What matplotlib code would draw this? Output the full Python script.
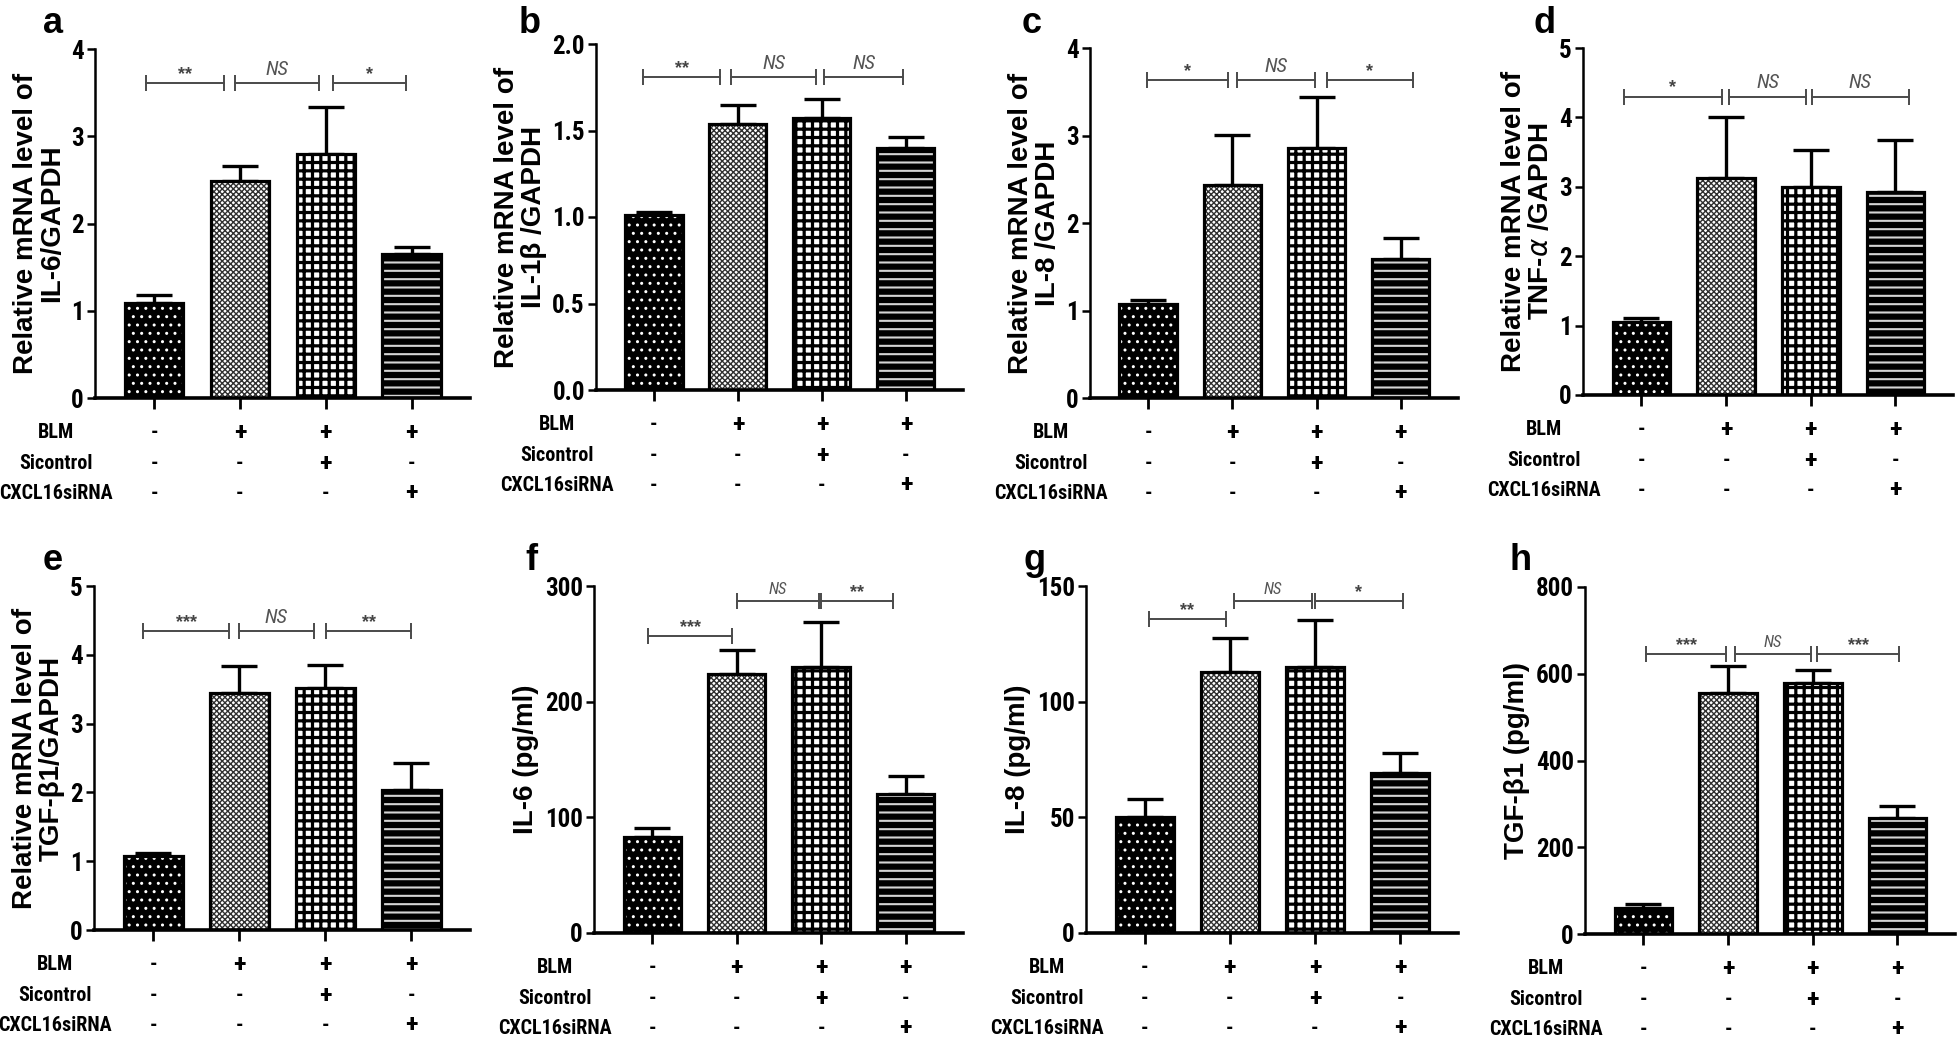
import matplotlib
matplotlib.use("Agg")
import matplotlib.pyplot as plt
from matplotlib import font_manager

# ---- data ----
row_names = ["BLM", "Sicontrol", "CXCL16siRNA"]
treatments = [["-", "+", "+", "+"],
              ["-", "-", "+", "-"],
              ["-", "-", "-", "+"]]
groups = [0, 1, 2, 3]

il6_mrna = [1.09, 2.49, 2.80, 1.65]
il6_mrna_err = [0.09, 0.17, 0.54, 0.08]
il1b_mrna = [1.01, 1.54, 1.57, 1.40]
il1b_mrna_err = [0.02, 0.11, 0.11, 0.06]
il8_mrna = [1.07, 2.43, 2.86, 1.59]
il8_mrna_err = [0.05, 0.58, 0.58, 0.24]
tnfa_mrna = [1.05, 3.13, 2.99, 2.92]
tnfa_mrna_err = [0.06, 0.88, 0.54, 0.75]
tgfb1_mrna = [1.08, 3.44, 3.52, 2.03]
tgfb1_mrna_err = [0.04, 0.40, 0.33, 0.40]
il6_elisa = [83, 224, 230, 120]
il6_elisa_err = [8, 21, 39, 16]
il8_elisa = [50, 113, 115, 69]
il8_elisa_err = [8, 14.5, 20.5, 9]
tgfb1_elisa = [60, 555, 578, 267]
tgfb1_elisa_err = [9, 62, 30, 28]

# significance brackets: (from, to, height, label)
sig_a = [(-0.10, 0.81, 3.61, "**"), (0.94, 1.92, 3.61, "NS"), (2.08, 2.94, 3.61, "*")]
sig_b = [(-0.13, 0.79, 1.81, "**"), (0.92, 1.93, 1.81, "NS"), (2.03, 2.97, 1.81, "NS")]
sig_c = [(-0.01, 0.95, 3.63, "*"), (1.06, 1.98, 3.63, "NS"), (2.12, 3.14, 3.63, "*")]
sig_d = [(-0.21, 0.95, 4.30, "*"), (1.04, 1.94, 4.30, "NS"), (2.01, 3.16, 4.30, "NS")]
sig_e = [(-0.12, 0.88, 4.35, "***"), (0.99, 1.87, 4.35, "NS"), (2.01, 3.00, 4.35, "**")]
sig_f = [(-0.05, 0.95, 257, "***"), (1.00, 1.97, 287, "NS"), (2.00, 2.85, 287, "**")]
sig_g = [(0.05, 0.95, 135.7, "**"), (1.05, 1.97, 143.4, "NS"), (2.00, 3.03, 143.4, "*")]
sig_h = [(0.03, 0.98, 645, "***"), (1.08, 1.98, 645, "NS"), (2.05, 3.02, 645, "***")]

# ---- fonts ----
names = {f.name for f in font_manager.fontManager.ttflist}
narrow = next((n for n in ["Liberation Sans Narrow", "Roboto Condensed", "Open Sans Condensed"]
               if n in names), "Liberation Sans")
plt.rcParams["font.family"] = ["Liberation Sans", "DejaVu Sans"]
plt.rcParams["mathtext.fontset"] = "dejavusans"

W, H = 1959, 1054
fig = plt.figure(figsize=(W / 100, H / 100), dpi=100)

faces = ["black", "white", "white", "black"]
hatch_cols = ["white", "#303030", "black", "#d5d5d5"]
hatches = ["..", "xxxxxx", "++", "--"]
hatch_lws = [1.0, 1.0, 2.3, 1.5]


def panel(box, letter, letter_xy, means, errs, ymax, yticks, ylabel, sig, small_ns, fmt="{:g}"):
    l, t, r, b = box
    ax = fig.add_axes([l / W, 1 - b / H, (r - l) / W, (b - t) / H])
    ax.set_xlim(-0.69, 3.68)
    ax.set_ylim(0, ymax)

    ax.errorbar(groups, means, yerr=[[0] * len(means), errs], fmt="none", ecolor="black",
                elinewidth=2.4, capsize=13, capthick=2.4, zorder=1)
    for i in groups:
        with plt.rc_context({"hatch.linewidth": hatch_lws[i]}):
            p = ax.bar(groups[i], means[i], width=0.68, color=faces[i], edgecolor=hatch_cols[i],
                       hatch=hatches[i], linewidth=0, zorder=2)[0]
            if hasattr(p, "set_hatch_linewidth"):
                p.set_hatch_linewidth(hatch_lws[i])
    ax.bar(groups, means, width=0.68, fill=False, edgecolor="black", linewidth=2.3, zorder=3)

    for s in ["top", "right"]:
        ax.spines[s].set_visible(False)
    ax.spines["left"].set_linewidth(1.8)
    ax.spines["bottom"].set_linewidth(2.6)
    ax.set_yticks(yticks)
    ax.set_yticklabels([fmt.format(v) for v in yticks], fontfamily=narrow, fontweight="bold")
    ax.tick_params(axis="y", direction="out", length=6, width=1.8, labelsize=18, pad=2)
    ax.set_xticks(groups)
    ax.set_xticklabels([])
    ax.tick_params(axis="x", direction="out", length=8, width=2)
    ax.set_ylabel(ylabel, fontsize=20, fontweight="bold", linespacing=1.05, labelpad=4)

    # significance brackets
    for x0, x1, y, lab in sig:
        ax.plot([x0, x1], [y, y], color="#4a4a4a", lw=1.4, marker="|", markersize=11,
                markeredgewidth=1.4, clip_on=False, zorder=4)
        if lab == "NS":
            ax.annotate(lab, xy=((x0 + x1) / 2, y), xytext=(0, 3), textcoords="offset points",
                        ha="center", va="bottom", fontsize=12 if small_ns else 15,
                        fontstyle="italic", fontfamily=narrow, color="#555555")
        else:
            ax.annotate(lab, xy=((x0 + x1) / 2, y), xytext=(0, 0), textcoords="offset points",
                        ha="center", va="bottom", fontsize=13, fontweight="bold", color="#444444")

    # treatment table under the axis
    offs = [25, 47.5, 68.5]
    for k, name in enumerate(row_names):
        ax.annotate(name, xy=(0, 0), xycoords="axes fraction", xytext=(-28, -offs[k]),
                    textcoords="offset points", ha="center", va="center", fontsize=14.5,
                    fontweight="bold", fontfamily=narrow)
        for j in groups:
            sym = treatments[k][j]
            ax.annotate(sym, xy=(j, 0), xycoords=("data", "axes fraction"), xytext=(0, -offs[k]),
                        textcoords="offset points", ha="center", va="center",
                        fontsize=19 if sym == "+" else 15, fontweight="bold", fontfamily=narrow)

    fig.text(letter_xy[0] / W, 1 - letter_xy[1] / H, letter, fontsize=26, fontweight="bold",
             ha="center", va="baseline")
    return ax


panel((95, 49, 470, 398), "a", (53, 33), il6_mrna, il6_mrna_err, 4, [0, 1, 2, 3, 4],
      "Relative mRNA level of\nIL-6/GAPDH", sig_a, False)
panel((596, 44, 963, 390), "b", (530, 33), il1b_mrna, il1b_mrna_err, 2.0, [0, 0.5, 1.0, 1.5, 2.0],
      "Relative mRNA level of\nIL-1\u03b2 /GAPDH", sig_b, False, fmt="{:.1f}")
panel((1090, 48, 1458, 398), "c", (1032, 33), il8_mrna, il8_mrna_err, 4, [0, 1, 2, 3, 4],
      "Relative mRNA level of\nIL-8 /GAPDH", sig_c, False)
panel((1583, 48, 1953, 395), "d", (1545, 33), tnfa_mrna, tnfa_mrna_err, 5, [0, 1, 2, 3, 4, 5],
      "Relative mRNA level of\nTNF-$\\alpha$ /GAPDH", sig_d, False)
panel((94, 586, 470, 930), "e", (53, 570), tgfb1_mrna, tgfb1_mrna_err, 5, [0, 1, 2, 3, 4, 5],
      "Relative mRNA level of\nTGF-\u03b21/GAPDH", sig_e, False)
panel((594, 586, 963, 933), "f", (531, 570), il6_elisa, il6_elisa_err, 300, [0, 100, 200, 300],
      "IL-6 (pg/ml)", sig_f, True)
panel((1086, 586, 1458, 933), "g", (1035, 570), il8_elisa, il8_elisa_err, 150, [0, 50, 100, 150],
      "IL-8 (pg/ml)", sig_g, True)
panel((1585, 587, 1955, 934), "h", (1521, 570), tgfb1_elisa, tgfb1_elisa_err, 800,
      [0, 200, 400, 600, 800], "TGF-\u03b21 (pg/ml)", sig_h, True)

fig.savefig("out.png", dpi=100)
